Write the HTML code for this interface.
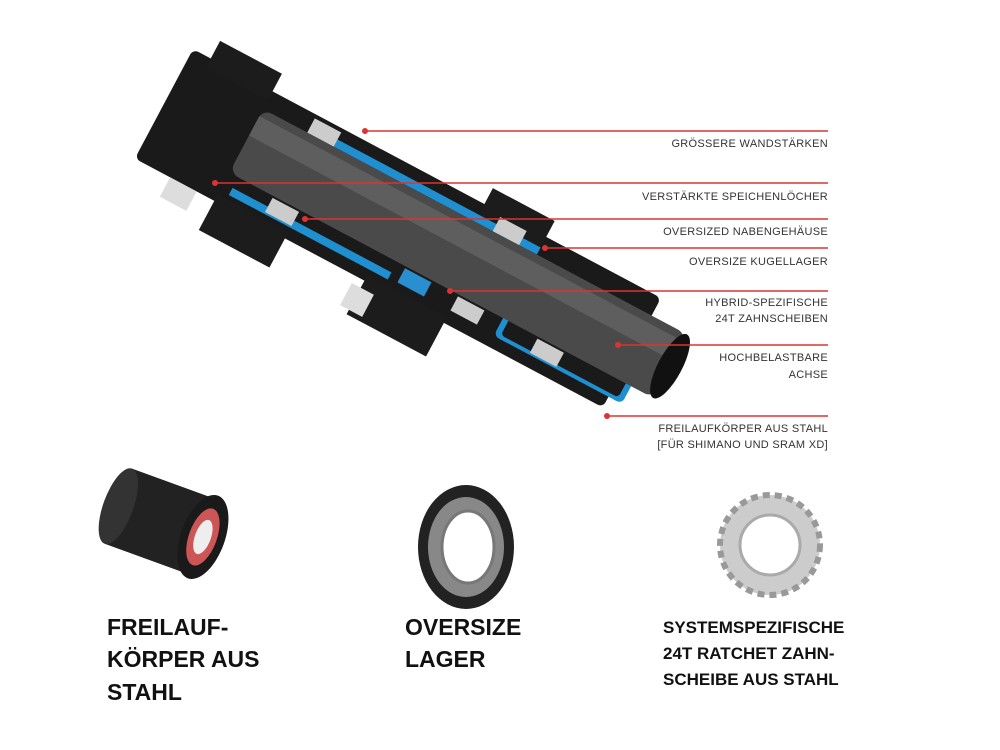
<!DOCTYPE html>
<html><head><style>
body{margin:0;background:#fff;width:1000px;height:750px;overflow:hidden;font-family:"Liberation Sans",sans-serif}
svg{position:absolute;left:0;top:0}
.l{font-size:11px;fill:#333;letter-spacing:0.3px}
.b{font-weight:bold;fill:#111}
</style></head><body>
<svg width="1000" height="750" viewBox="0 0 1000 750">
<g transform="translate(420,240) rotate(28)">
  <rect x="-290" y="-62" width="530" height="124" rx="6" fill="#1a1a1a"/>
  <rect x="-270" y="-82" width="70" height="30" fill="#1c1c1c"/>
  <rect x="-200" y="55" width="80" height="40" fill="#1c1c1c"/>
  <rect x="40" y="-80" width="70" height="30" fill="#1c1c1c"/>
  <rect x="-30" y="55" width="90" height="45" fill="#1c1c1c"/>
  <rect x="-250" y="62" width="30" height="22" fill="#ddd"/>
  <rect x="-40" y="70" width="25" height="25" fill="#ddd"/>
  <rect x="-120" y="-50" width="230" height="8" fill="#1f8fd0"/>
  <rect x="-190" y="42" width="180" height="8" fill="#1f8fd0"/>
  <rect x="110" y="-30" width="145" height="80" rx="6" fill="#1f8fd0"/>
  <rect x="116" y="-26" width="133" height="72" rx="4" fill="#1a1a1a"/>
  <rect x="-200" y="-42" width="480" height="72" rx="10" fill="#4a4a4a"/>
  <rect x="-200" y="-34" width="480" height="22" fill="#5e5e5e"/>
  <ellipse cx="280" cy="-6" rx="12" ry="36" fill="#111"/>
  <rect x="-150" y="-58" width="30" height="16" fill="#ccc"/>
  <rect x="-150" y="32" width="30" height="16" fill="#ccc"/>
  <rect x="60" y="-58" width="30" height="16" fill="#ccc"/>
  <rect x="60" y="32" width="30" height="16" fill="#ccc"/>
  <rect x="150" y="32" width="30" height="16" fill="#ccc"/>
  <rect x="0" y="32" width="30" height="16" fill="#2a8fd0"/>
</g>
<g stroke="#d33" stroke-width="1.5">
  <line x1="365" y1="131" x2="828" y2="131"/>
  <line x1="215" y1="183" x2="828" y2="183"/>
  <line x1="305" y1="219" x2="828" y2="219"/>
  <line x1="545" y1="248" x2="828" y2="248"/>
  <line x1="450" y1="291" x2="828" y2="291"/>
  <line x1="618" y1="345" x2="828" y2="345"/>
  <line x1="607" y1="416" x2="828" y2="416"/>
</g>
<g fill="#d33"><circle cx="365" cy="131" r="3"/><circle cx="215" cy="183" r="3"/><circle cx="305" cy="219" r="3"/><circle cx="545" cy="248" r="3"/><circle cx="450" cy="291" r="3"/><circle cx="618" cy="345" r="3"/><circle cx="607" cy="416" r="3"/></g>
<g class="l" text-anchor="end">
  <text x="828" y="147">GRÖSSERE WANDSTÄRKEN</text>
  <text x="828" y="200">VERSTÄRKTE SPEICHENLÖCHER</text>
  <text x="828" y="235">OVERSIZED NABENGEHÄUSE</text>
  <text x="828" y="265">OVERSIZE KUGELLAGER</text>
  <text x="828" y="306">HYBRID-SPEZIFISCHE</text>
  <text x="828" y="322">24T ZAHNSCHEIBEN</text>
  <text x="828" y="361">HOCHBELASTBARE</text>
  <text x="828" y="378">ACHSE</text>
  <text x="828" y="432">FREILAUFKÖRPER AUS STAHL</text>
  <text x="828" y="448">[FÜR SHIMANO UND SRAM XD]</text>
</g>
<g transform="translate(170,525) rotate(20)">
  <rect x="-55" y="-40" width="90" height="80" fill="#222"/>
  <ellipse cx="-55" cy="0" rx="15" ry="40" fill="#333"/>
  <ellipse cx="35" cy="0" rx="22" ry="44" fill="#1a1a1a"/>
  <ellipse cx="35" cy="0" rx="14" ry="30" fill="#c55"/>
  <ellipse cx="35" cy="0" rx="8" ry="18" fill="#eee"/>
</g>
<ellipse cx="466" cy="547" rx="48" ry="62" fill="#222"/>
<ellipse cx="466" cy="547" rx="38" ry="50" fill="#888"/>
<ellipse cx="468" cy="547" rx="26" ry="36" fill="#fff" stroke="#777" stroke-width="3"/>
<circle cx="770" cy="545" r="50" fill="#ccc" stroke="#999" stroke-width="6" stroke-dasharray="7 5"/>
<circle cx="770" cy="545" r="30" fill="#fff" stroke="#aaa" stroke-width="3"/>
<g class="b" font-size="23">
  <text x="107" y="635">FREILAUF-</text>
  <text x="107" y="667">KÖRPER AUS</text>
  <text x="107" y="700">STAHL</text>
  <text x="405" y="635">OVERSIZE</text>
  <text x="405" y="667">LAGER</text>
</g>
<g class="b" font-size="17">
  <text x="663" y="633">SYSTEMSPEZIFISCHE</text>
  <text x="663" y="659">24T RATCHET ZAHN-</text>
  <text x="663" y="685">SCHEIBE AUS STAHL</text>
</g>
</svg>
</body></html>
